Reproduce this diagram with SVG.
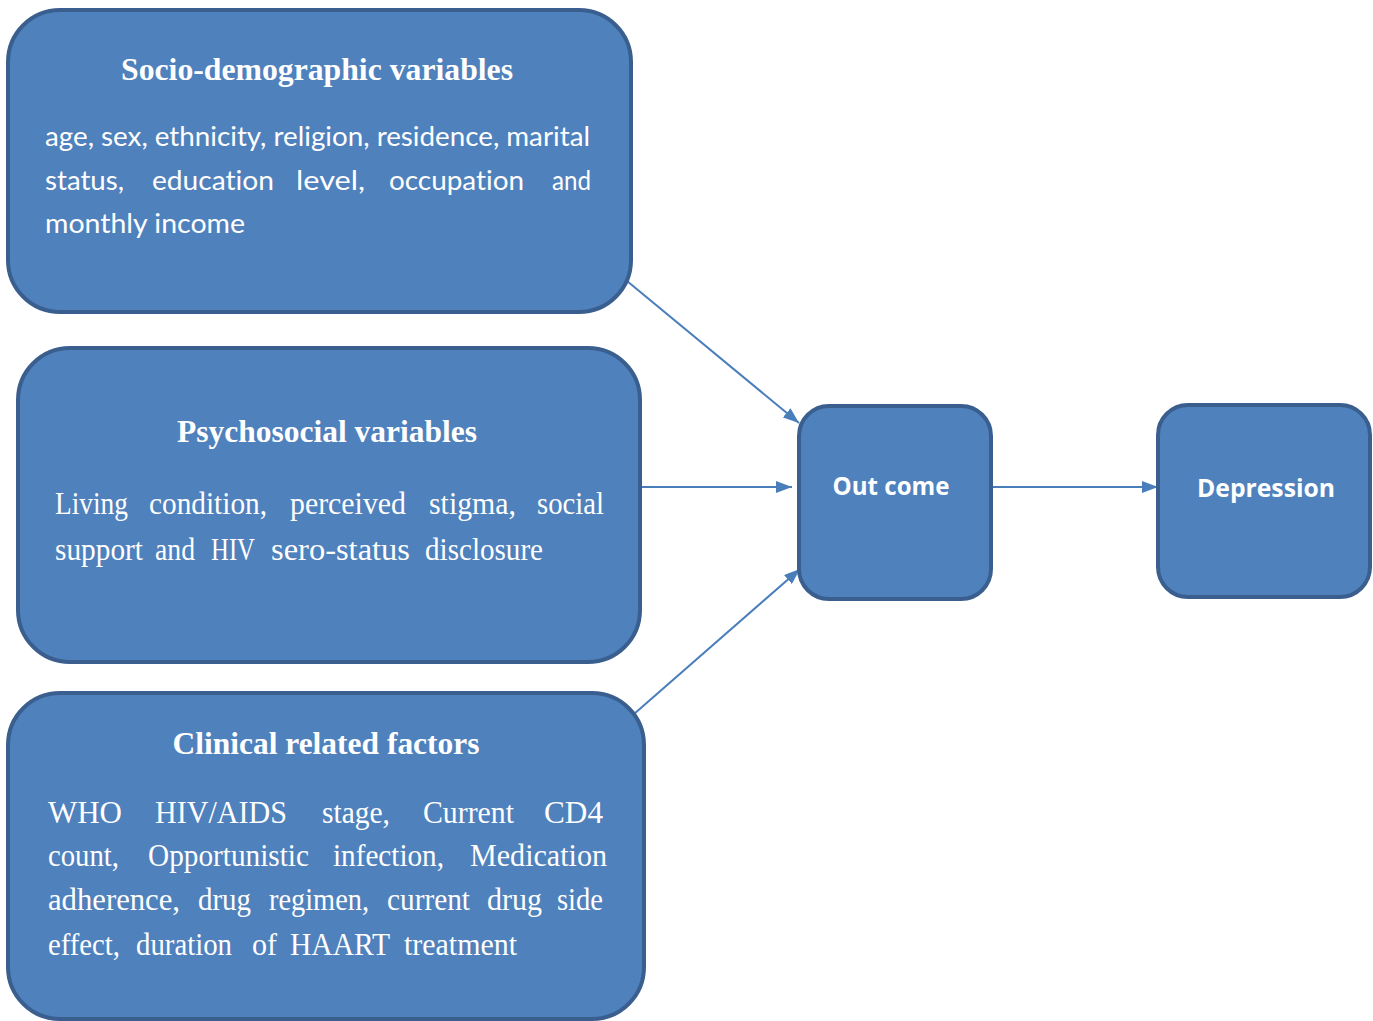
<svg xmlns="http://www.w3.org/2000/svg" width="1373" height="1021" viewBox="0 0 1373 1021">
  <style>
    .box { fill: #4f81bd; stroke: #3a5f8f; stroke-width: 4; }
    .title { font-family: "Liberation Serif", "Times New Roman", serif; font-weight: bold; font-size: 32px; fill: #ffffff; }
    .sans { font-family: Lato, "Open Sans", "Liberation Sans", sans-serif; font-size: 27px; fill: #ffffff; font-variant-ligatures: none; }
    .serif { font-family: "Liberation Serif", "Times New Roman", serif; font-size: 32px; fill: #ffffff; }
    .label { font-family: "Open Sans", "Liberation Sans", sans-serif; font-weight: bold; font-size: 25px; fill: #ffffff; }
    .conn { stroke: #4a7ebb; stroke-width: 2; fill: none; marker-end: url(#arrow); }
  </style>
  <defs>
    <marker id="arrow" viewBox="0 0 16 12" refX="16" refY="6" markerWidth="16" markerHeight="12" markerUnits="userSpaceOnUse" orient="auto">
      <path d="M0,0 L16,6 L0,12 z" fill="#4a7ebb"/>
    </marker>
  </defs>

  <rect width="1373" height="1021" fill="#ffffff"/>

  <!-- connectors -->
  <g id="connectors">
    <line class="conn" x1="627" y1="281" x2="799" y2="423"/>
    <line class="conn" x1="640" y1="487" x2="792" y2="487"/>
    <line class="conn" x1="634" y1="714" x2="800" y2="569"/>
    <line class="conn" x1="993" y1="487" x2="1158" y2="487"/>
  </g>

  <!-- socio-demographic variables -->
  <g id="socio-demographic">
    <rect class="box" x="8" y="10" width="623" height="302" rx="52" ry="52"/>
    <text class="title" x="317" y="80" text-anchor="middle" textLength="392" lengthAdjust="spacingAndGlyphs">Socio-demographic  variables</text>
    <text class="sans" x="45" y="146" textLength="545" lengthAdjust="spacingAndGlyphs">age, sex, ethnicity, religion, residence, marital</text>
    <g class="sans">
      <text x="45" y="190" textLength="79" lengthAdjust="spacingAndGlyphs">status,</text>
      <text x="152" y="190" textLength="122" lengthAdjust="spacingAndGlyphs">education</text>
      <text x="296" y="190" textLength="69" lengthAdjust="spacingAndGlyphs">level,</text>
      <text x="389" y="190" textLength="135" lengthAdjust="spacingAndGlyphs">occupation</text>
      <text x="552" y="190" textLength="39" lengthAdjust="spacingAndGlyphs">and</text>
    </g>
    <text class="sans" x="45" y="233" textLength="200" lengthAdjust="spacingAndGlyphs">monthly income</text>
  </g>

  <!-- psychosocial variables -->
  <g id="psychosocial">
    <rect class="box" x="18" y="348" width="622" height="314" rx="52" ry="52"/>
    <text class="title" x="327" y="442" text-anchor="middle" textLength="300" lengthAdjust="spacingAndGlyphs">Psychosocial variables</text>
    <g class="serif">
      <text x="55" y="514" textLength="73" lengthAdjust="spacingAndGlyphs">Living</text>
      <text x="149" y="514" textLength="118" lengthAdjust="spacingAndGlyphs">condition,</text>
      <text x="290" y="514" textLength="116" lengthAdjust="spacingAndGlyphs">perceived</text>
      <text x="429" y="514" textLength="87" lengthAdjust="spacingAndGlyphs">stigma,</text>
      <text x="537" y="514" textLength="67" lengthAdjust="spacingAndGlyphs">social</text>
      <text x="55" y="560" textLength="88" lengthAdjust="spacingAndGlyphs">support</text>
      <text x="155" y="560" textLength="40" lengthAdjust="spacingAndGlyphs">and</text>
      <text x="211" y="560" textLength="44" lengthAdjust="spacingAndGlyphs">HIV</text>
      <text x="271" y="560" textLength="139" lengthAdjust="spacingAndGlyphs">sero-status</text>
      <text x="425" y="560" textLength="118" lengthAdjust="spacingAndGlyphs">disclosure</text>
    </g>
  </g>

  <!-- clinical related factors -->
  <g id="clinical">
    <rect class="box" x="8" y="693" width="636" height="326" rx="52" ry="52"/>
    <text class="title" x="326" y="754" text-anchor="middle" textLength="307" lengthAdjust="spacingAndGlyphs">Clinical  related factors</text>
    <g class="serif">
      <text x="48" y="823" textLength="74" lengthAdjust="spacingAndGlyphs">WHO</text>
      <text x="155" y="823" textLength="132" lengthAdjust="spacingAndGlyphs">HIV/AIDS</text>
      <text x="322" y="823" textLength="68" lengthAdjust="spacingAndGlyphs">stage,</text>
      <text x="423" y="823" textLength="91" lengthAdjust="spacingAndGlyphs">Current</text>
      <text x="544" y="823" textLength="59" lengthAdjust="spacingAndGlyphs">CD4</text>

      <text x="48" y="866" textLength="71" lengthAdjust="spacingAndGlyphs">count,</text>
      <text x="148" y="866" textLength="161" lengthAdjust="spacingAndGlyphs">Opportunistic</text>
      <text x="333" y="866" textLength="111" lengthAdjust="spacingAndGlyphs">infection,</text>
      <text x="470" y="866" textLength="137" lengthAdjust="spacingAndGlyphs">Medication</text>

      <text x="48" y="910" textLength="132" lengthAdjust="spacingAndGlyphs">adherence,</text>
      <text x="198" y="910" textLength="53" lengthAdjust="spacingAndGlyphs">drug</text>
      <text x="269" y="910" textLength="100" lengthAdjust="spacingAndGlyphs">regimen,</text>
      <text x="387" y="910" textLength="83" lengthAdjust="spacingAndGlyphs">current</text>
      <text x="487" y="910" textLength="55" lengthAdjust="spacingAndGlyphs">drug</text>
      <text x="557" y="910" textLength="46" lengthAdjust="spacingAndGlyphs">side</text>

      <text x="48" y="955" textLength="72" lengthAdjust="spacingAndGlyphs">effect,</text>
      <text x="136" y="955" textLength="96" lengthAdjust="spacingAndGlyphs">duration</text>
      <text x="252" y="955" textLength="25" lengthAdjust="spacingAndGlyphs">of</text>
      <text x="290" y="955" textLength="100" lengthAdjust="spacingAndGlyphs">HAART</text>
      <text x="404" y="955" textLength="113" lengthAdjust="spacingAndGlyphs">treatment</text>
    </g>
  </g>

  <!-- outcome -->
  <g id="outcome">
    <rect class="box" x="799" y="406" width="192" height="193" rx="30" ry="30"/>
    <text class="label" x="891" y="495" text-anchor="middle" textLength="117" lengthAdjust="spacingAndGlyphs">Out come</text>
  </g>

  <!-- depression -->
  <g id="depression">
    <rect class="box" x="1158" y="405" width="212" height="192" rx="30" ry="30"/>
    <text class="label" x="1266" y="497" text-anchor="middle" textLength="138" lengthAdjust="spacingAndGlyphs">Depression</text>
  </g>
</svg>
